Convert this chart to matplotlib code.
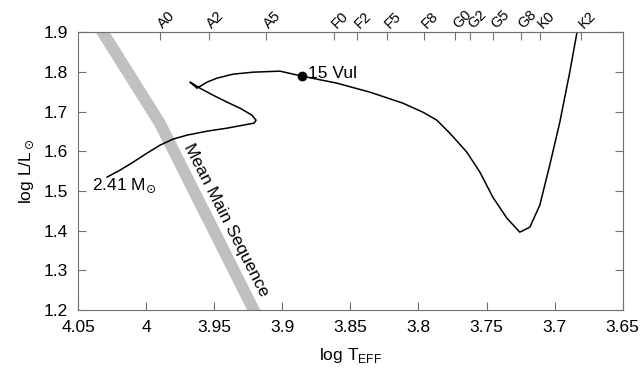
import matplotlib.pyplot as plt
import numpy as np

plt.rcParams['font.family'] = ['Liberation Sans', 'DejaVu Sans']

# evolutionary track of a 2.41 Msun star (log Teff, log L/Lsun)
track_logt = [4.0287, 4.0192, 4.0096, 3.9994, 3.9898, 3.9803, 3.9700, 3.9553,
              3.9406, 3.9289, 3.9208, 3.9193, 3.9223, 3.9311, 3.9406, 3.9509,
              3.9605, 3.9663, 3.9678, 3.9627, 3.9553, 3.9480, 3.9362, 3.9216,
              3.9017, 3.8856, 3.8599, 3.8357, 3.8115, 3.7968, 3.7865, 3.7770,
              3.7645, 3.7549, 3.7454, 3.7351, 3.7256, 3.7182, 3.7109, 3.7036,
              3.6962, 3.6889, 3.6837, 3.6830]
track_logl = [1.5348, 1.5524, 1.5725, 1.5952, 1.6154, 1.6305, 1.6406, 1.6506,
              1.6582, 1.6657, 1.6708, 1.6783, 1.6909, 1.7086, 1.7237, 1.7413,
              1.7589, 1.7715, 1.7741, 1.7589, 1.7741, 1.7841, 1.7942, 1.7992,
              1.8018, 1.7892, 1.7715, 1.7489, 1.7212, 1.6985, 1.6783, 1.6456,
              1.5977, 1.5474, 1.4844, 1.4315, 1.3962, 1.4088, 1.4642, 1.5650,
              1.6733, 1.7992, 1.8975, 1.9180]

# mean main sequence
ms_logt = [4.040, 3.990, 3.916]
ms_logl = [1.944, 1.671, 1.166]

# 15 Vul position
star_logt, star_logl = 3.8856, 1.7892

# spectral types on the top axis
sp_types = ["A0", "A2", "A5", "F0", "F2", "F5", "F8", "G0", "G2", "G5", "G8", "K0", "K2"]
sp_logt = [3.990, 3.954, 3.912, 3.862, 3.845, 3.823, 3.796, 3.773, 3.762, 3.745, 3.725, 3.711, 3.681]

fig = plt.figure(figsize=(6.4, 3.74), dpi=100)
ax = fig.add_axes([0.122, 0.171, 0.851, 0.743])

ax.plot(ms_logt, ms_logl, color="#c0c0c0", lw=8.5, solid_capstyle="butt", zorder=1)
ax.plot(track_logt, track_logl, color="black", lw=1.1, solid_joinstyle="round", zorder=2)
ax.plot(star_logt, star_logl, "o", color="black", ms=6, zorder=3)

ax.text(3.881, 1.797, "15 Vul", fontsize=12.5, ha="left", va="center")
ax.text(4.040, 1.512, r"2.41 M$_{\!\odot}$", fontsize=12.5, ha="left", va="center")
ax.text(3.941, 1.426, "Mean Main Sequence", fontsize=12.5, rotation=-63,
        rotation_mode="anchor", ha="center", va="center")

ax.set_xlim(4.05, 3.65)
ax.set_ylim(1.2, 1.9)
ax.set_xticks(np.arange(4.05, 3.649, -0.05))
ax.set_xticklabels(["4.05", "4", "3.95", "3.9", "3.85", "3.8", "3.75", "3.7", "3.65"])
ax.set_yticks(np.arange(1.2, 1.91, 0.1))
ax.set_yticklabels(["1.2", "1.3", "1.4", "1.5", "1.6", "1.7", "1.8", "1.9"])
ax.tick_params(direction="in", length=6, color="#707070", labelsize=12.5,
               right=True, pad=7)
for s in ax.spines.values():
    s.set_color("#707070")

top = ax.secondary_xaxis("top")
top.set_xticks(sp_logt)
top.set_xticklabels(sp_types, rotation=45, rotation_mode="anchor", ha="left", va="center")
top.tick_params(direction="in", length=6, color="#707070", labelsize=10.5, pad=4)
top.spines["top"].set_color("#707070")

ax.set_xlabel(r"log T$_{\mathregular{EFF}}$", fontsize=12.5, labelpad=8)
ax.set_ylabel(r"log L/L$_\odot$", fontsize=12.5, labelpad=6)

fig.savefig("out.png", dpi=100)
